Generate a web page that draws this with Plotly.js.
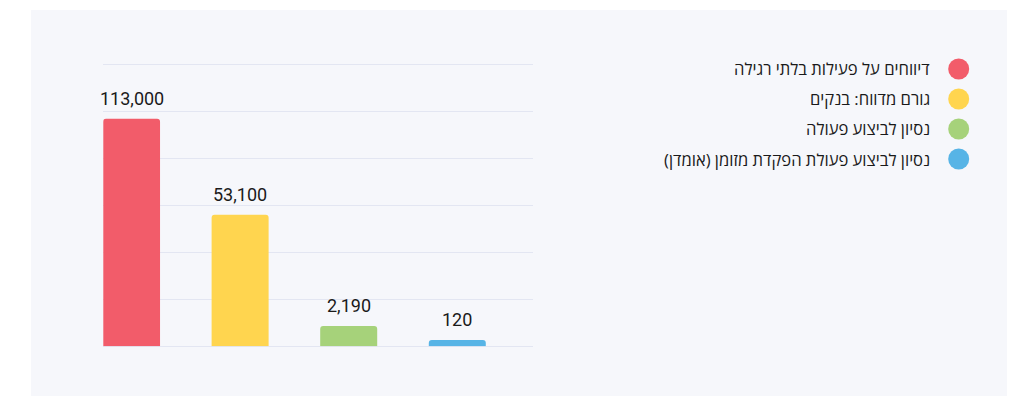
<!DOCTYPE html>
<html>
<head>
<meta charset="utf-8">
<script src="https://cdn.plot.ly/plotly-3.0.1.min.js"></script>
<style>
html,body{margin:0;padding:0;background:#ffffff;width:1011px;height:396px;overflow:hidden;}
#chart{position:absolute;left:31px;top:10px;width:976px;height:386px;}
</style>
</head>
<body>
<div id="chart"></div>
<script>
// Category names (legend labels)
const categories = [
  "דיווחים על פעילות בלתי רגילה",
  "גורם מדווח: בנקים",
  "נסיון לביצוע פעולה",
  "נסיון לביצוע פעולת הפקדת מזומן (אומדן)"
];
// Values shown above the bars
const values = [113000, 53100, 2190, 120];
// Bar heights as drawn in the picture (in gridline units; the picture is not to scale)
const barHeights = [4.84, 2.80, 0.43, 0.134];
// Gridline positions (gridline units)
const gridVals = [0, 1, 2, 3, 4, 5, 6];
// Colours
const colors = ["#F25C6A", "#FFD54F", "#A6D27A", "#57B4E6"];

const W = 976, H = 386;
const plotL = 72.3, plotR = 502.3, plotB = 336.3;
const unitPx = 47.0;           // pixels per gridline unit
const yMax = 6.5;              // headroom so the top gridline is inside the plot
const plotT = plotB - yMax * unitPx;

const fmt = v => v.toLocaleString("en-US");

const barTrace = {
  type: "bar",
  x: categories,
  y: barHeights,
  marker: {color: colors, cornerradius: 3, line: {width: 0}},
  width: 0.525,
  hoverinfo: "skip",
  showlegend: false,
  xaxis: "x", yaxis: "y"
};

const legendTrace = {
  type: "scatter",
  mode: "markers",
  x: categories.map(() => 927.7),
  y: categories.map((c, i) => i),
  marker: {color: colors, size: 21, line: {width: 0}},
  hoverinfo: "skip",
  showlegend: false,
  xaxis: "x2", yaxis: "y2"
};

const annotations = [];
categories.forEach((c, i) => {
  annotations.push({
    x: c, y: barHeights[i], xref: "x", yref: "y",
    text: fmt(values[i]), showarrow: false,
    xanchor: "center", yanchor: "bottom", yshift: 8,
    font: {family: "Roboto, 'Noto Sans', sans-serif", size: 18, color: "#1a1a1a"}
  });
  annotations.push({
    x: 900.5, y: i, xref: "x2", yref: "y2",
    text: c, showarrow: false,
    xanchor: "right", yanchor: "middle",
    font: {family: "'Open Sans', 'Liberation Sans', 'DejaVu Sans', sans-serif", size: 16.6, color: "#1a1a1a"}
  });
});

const layout = {
  width: W, height: H,
  margin: {l: 0, r: 0, t: 0, b: 0, pad: 0},
  paper_bgcolor: "#F6F7FB",
  plot_bgcolor: "rgba(0,0,0,0)",
  showlegend: false,
  xaxis: {
    domain: [plotL / W, plotR / W],
    type: "category",
    range: [-0.26, 3.7],
    showticklabels: false, ticks: "",
    showgrid: false, zeroline: false, showline: false,
    fixedrange: true
  },
  yaxis: {
    domain: [1 - plotB / H, 1 - plotT / H],
    range: [0, yMax], tickvals: gridVals,
    showticklabels: false, ticks: "",
    showgrid: true, gridcolor: "#E3E6F2", gridwidth: 1,
    zeroline: true, zerolinecolor: "#E3E6F2", zerolinewidth: 1,
    showline: false, fixedrange: true
  },
  xaxis2: {
    domain: [0, 1], range: [0, W], anchor: "y2",
    visible: false, fixedrange: true
  },
  yaxis2: {
    domain: [1 - 164 / H, 1 - 44 / H], range: [3.5, -0.5], anchor: "x2",
    visible: false, fixedrange: true
  },
  annotations: annotations
};

Plotly.newPlot("chart", [barTrace, legendTrace], layout, {displayModeBar: false, staticPlot: true});
</script>
</body>
</html>
